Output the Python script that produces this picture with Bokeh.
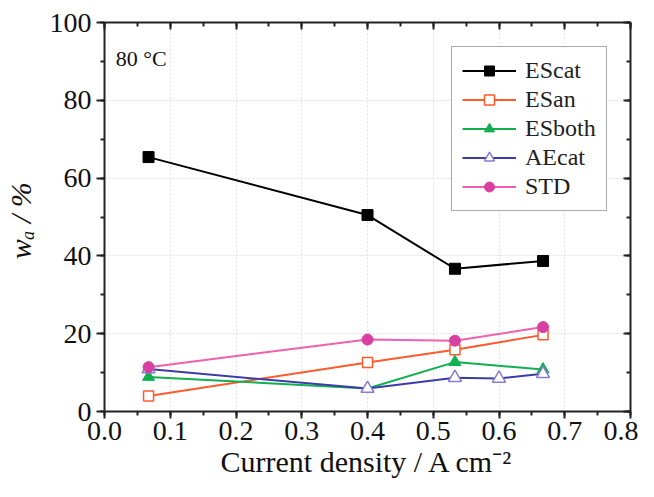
from bokeh.plotting import figure
from bokeh.models import (Range1d, SingleIntervalTicker, LinearAxis, Label, Legend,
                          LegendItem, PrintfTickFormatter, CustomJSTickFormatter)
from bokeh.embed import file_html
from bokeh.resources import INLINE

# ---- data ----
current = [0.067, 0.4, 0.533, 0.667]
current_ae = [0.067, 0.4, 0.533, 0.6, 0.667]
escat = [65.4, 50.5, 36.7, 38.7]
esan = [4.0, 12.6, 15.9, 19.7]
esboth = [8.9, 5.9, 12.7, 10.8]
aecat = [10.9, 5.9, 8.7, 8.5, 9.7]
std = [11.4, 18.5, 18.2, 21.7]
series_names = ["EScat", "ESan", "ESboth", "AEcat", "STD"]

FONT = "Liberation Serif"

p = figure(width=638, height=481, output_backend="svg", toolbar_location=None,
           x_range=Range1d(0, 0.8), y_range=Range1d(0, 100),
           x_axis_location=None, y_axis_location=None,
           min_border_left=104, min_border_right=8, min_border_top=22, min_border_bottom=70)
p.outline_line_color = None
p.background_fill_color = "white"

xt = SingleIntervalTicker(interval=0.1, num_minor_ticks=2)
yt = SingleIntervalTicker(interval=20, num_minor_ticks=2)

def style_axis(ax, labels=True, inward=False):
    ax.axis_line_width = 2
    ax.axis_line_color = "#222222"
    ax.major_tick_line_width = 2
    ax.minor_tick_line_width = 2
    ax.major_tick_line_color = "#222222"
    ax.minor_tick_line_color = "#222222"
    if inward:
        ax.major_tick_in = 7
        ax.major_tick_out = 0
        ax.minor_tick_in = 4
        ax.minor_tick_out = 0
    else:
        ax.major_tick_in = 0
        ax.major_tick_out = 7
        ax.minor_tick_in = 0
        ax.minor_tick_out = 4
    if labels:
        ax.major_label_text_font = FONT
        ax.major_label_text_font_style = "normal"
        ax.major_label_text_font_size = "28px"
        ax.major_label_text_color = "#111111"
        ax.axis_label_text_font = FONT
        ax.axis_label_text_color = "#111111"
    else:
        ax.formatter = CustomJSTickFormatter(code="return ''")
        ax.major_label_standoff = 0

xb = LinearAxis(ticker=xt, formatter=PrintfTickFormatter(format="%.1f"))
style_axis(xb)
xb.major_label_standoff = 3
xb.axis_label = "Current density / A cm\u207b\u00b2"
xb.axis_label_text_font_size = "30px"
xb.axis_label_text_font_style = "normal"
xb.axis_label_standoff = 2
p.add_layout(xb, "below")

yl = LinearAxis(ticker=yt, formatter=PrintfTickFormatter(format="%d"))
style_axis(yl)
yl.major_tick_out = 8
yl.major_label_standoff = 5
yl.axis_label = "w\u2090 /  %"
yl.axis_label_text_font_size = "30px"
yl.axis_label_text_font_style = "italic"
yl.axis_label_standoff = 10
p.add_layout(yl, "left")

xa = LinearAxis(ticker=xt)
style_axis(xa, labels=False, inward=True)
p.add_layout(xa, "above")

yr = LinearAxis(ticker=yt)
style_axis(yr, labels=False, inward=True)
p.add_layout(yr, "right")

p.xgrid.ticker = xt
p.ygrid.ticker = yt
for g in (p.xgrid, p.ygrid):
    g.grid_line_color = "#e0e0e0"
    g.grid_line_dash = "2 2"
    g.grid_line_width = 1

# ---- series ----
items = []
l1 = p.line(current, escat, line_color="black", line_width=2)
m1 = p.scatter(current, escat, marker="square", size=11, fill_color="black", line_color="black")
items.append(LegendItem(label=series_names[0], renderers=[l1, m1]))

c2 = "#FF5A2E"
l2 = p.line(current, esan, line_color=c2, line_width=2)
m2 = p.scatter(current, esan, marker="square", size=10, fill_color="white", line_color=c2, line_width=1.5)
items.append(LegendItem(label=series_names[1], renderers=[l2, m2]))

c3 = "#10B050"
l3 = p.line(current, esboth, line_color=c3, line_width=2)
m3 = p.scatter(current, esboth, marker="triangle", size=12, fill_color=c3, line_color=c3)
items.append(LegendItem(label=series_names[2], renderers=[l3, m3]))

c4 = "#3C3CA8"
l4 = p.line(current_ae, aecat, line_color=c4, line_width=2)
m4 = p.scatter(current_ae, aecat, marker="triangle", size=13, fill_color="white", line_color="#8A7CD2", line_width=1.5)
items.append(LegendItem(label=series_names[3], renderers=[l4, m4]))

c5 = "#F060B0"
l5 = p.line(current, std, line_color=c5, line_width=2)
m5 = p.scatter(current, std, marker="circle", size=11, fill_color="#D93FA3", line_color="#D93FA3")
items.append(LegendItem(label=series_names[4], renderers=[l5, m5]))

legend = Legend(items=items, location=(347, 200), padding=10, spacing=2,
                label_height=25, glyph_height=25, glyph_width=54, label_standoff=9,
                label_text_font=FONT, label_text_font_size="24px", label_text_color="#222222",
                border_line_color="#555555", border_line_width=1.5,
                background_fill_color="white", background_fill_alpha=1.0, margin=0)
p.add_layout(legend, "center")

p.add_layout(Label(x=0.017, y=90.8, text="80 \u00b0C", text_font=FONT, text_font_size="22px",
                   text_align="left", text_baseline="alphabetic", text_color="#111111"))

open("out.html", "w").write(file_html(p, INLINE))
